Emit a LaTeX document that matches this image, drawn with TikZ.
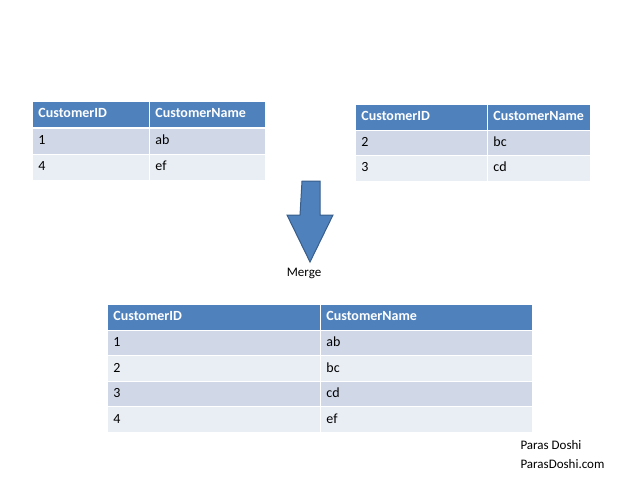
\documentclass[tikz,border=0pt]{standalone}
\usepackage{fontspec}
\setmainfont{Carlito}
\definecolor{hdr}{HTML}{4F81BD}
\definecolor{rowa}{HTML}{D0D8E8}
\definecolor{rowb}{HTML}{E9EDF4}
\definecolor{edge}{HTML}{385D8A}
\tikzset{cell/.style={rectangle,anchor=north west,inner sep=0pt,draw=white,line width=0.8pt,
    minimum height=26pt,text height=10pt,text depth=3pt,align=left,font=\fontsize{14}{16}\selectfont},
  head/.style={cell,fill=hdr,text=white,font=\fontsize{14}{16}\selectfont\bfseries},
  oddrow/.style={cell,fill=rowa},
  evenrow/.style={cell,fill=rowb}}
% w1, w2: column widths
\newcommand{\celltext}[2]{\makebox[#1][l]{\hspace{6pt}#2}}
\begin{document}
\begin{tikzpicture}[x=1pt,y=-1pt]
  \useasboundingbox (0,0) rectangle (640,480);
  % left table
  \node(l0a)[head,minimum width=117pt] at (32,101) {\celltext{117pt}{CustomerID}};
  \node(l0b)[head,minimum width=116pt] at (149,101) {\celltext{116pt}{CustomerName}};
  \node(l1a)[oddrow,minimum width=117pt] at (32,128) {\celltext{117pt}{1}};
  \node(l1b)[oddrow,minimum width=116pt] at (149,128) {\celltext{116pt}{ab}};
  \node(l2a)[evenrow,minimum width=117pt] at (32,154) {\celltext{117pt}{4}};
  \node(l2b)[evenrow,minimum width=116pt] at (149,154) {\celltext{116pt}{ef}};
  % right table
  \node(r0a)[head,minimum width=132pt] at (355,104) {\celltext{132pt}{CustomerID}};
  \node(r0b)[head,minimum width=103pt] at (487,104) {\celltext{103pt}{CustomerName}};
  \node(r1a)[oddrow,minimum width=132pt] at (355,130) {\celltext{132pt}{2}};
  \node(r1b)[oddrow,minimum width=103pt] at (487,130) {\celltext{103pt}{bc}};
  \node(r2a)[evenrow,minimum width=132pt] at (355,155) {\celltext{132pt}{3}};
  \node(r2b)[evenrow,minimum width=103pt] at (487,155) {\celltext{103pt}{cd}};
  % arrow
  \draw[fill=hdr,draw=edge,line width=1pt] (302,181) -- (320,181) -- (320,215) -- (333,215)
    -- (310,262) -- (287,215) -- (300,215) -- cycle;
  \node(merge) at (304,273) {\fontsize{13}{15}\selectfont Merge};
  % merged table
  \node(m0a)[head,minimum width=213pt] at (107,304) {\celltext{213pt}{CustomerID}};
  \node(m0b)[head,minimum width=212pt] at (320,304) {\celltext{212pt}{CustomerName}};
  \foreach \i/\id/\nm/\st in {1/1/ab/oddrow,2/2/bc/evenrow,3/3/cd/oddrow,4/4/ef/evenrow}{
    \node(m\i a)[\st,minimum width=213pt] at (107,304+25.6*\i) {\celltext{213pt}{\id}};
    \node(m\i b)[\st,minimum width=212pt] at (320,304+25.6*\i) {\celltext{212pt}{\nm}};
  }
  \node(sig)[anchor=north west,align=left,font=\fontsize{13}{19}\selectfont] at (517,437)
    {Paras Doshi\\ParasDoshi.com};
\end{tikzpicture}
\end{document}
